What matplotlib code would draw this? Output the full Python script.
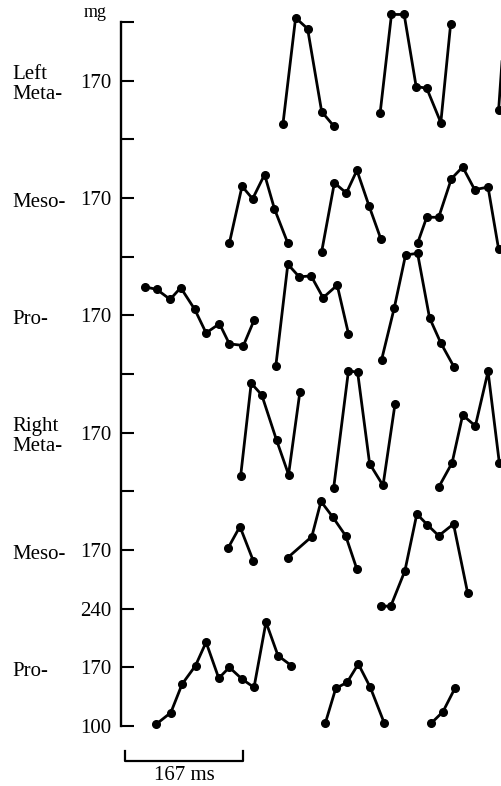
import numpy as np
import matplotlib.pyplot as plt
from matplotlib.transforms import blended_transform_factory

plt.rcParams['font.family'] = ['Liberation Serif', 'DejaVu Serif']

# time (ms) and force (mg) for each stance phase, one list per leg
l_meta_t = [[224, 242, 259, 279, 296], [362, 378, 396, 413, 428, 448, 462], [530, 539]]
l_meta_mg = [[118, 245, 232, 133, 116], [132, 249, 249, 163, 161, 120, 238], [135, 243]]

l_meso_t = [[148, 166, 181, 198, 212, 231], [279, 297, 314, 329, 346, 363],
            [415, 428, 445, 463, 479, 496, 515, 530]]
l_meso_mg = [[116, 184, 169, 198, 157, 116], [106, 188, 176, 203, 161, 121],
             [116, 147, 147, 193, 207, 180, 183, 109]]

l_pro_t = [[28, 45, 64, 79, 99, 115, 134, 148, 168, 183], [214, 231, 247, 264, 281, 301, 317],
           [364, 382, 398, 415, 432, 448, 467]]
l_pro_mg = [[204, 201, 189, 203, 177, 149, 160, 136, 134, 164], [110, 231, 216, 217, 191, 206, 148],
            [117, 179, 242, 244, 167, 137, 108]]

r_meta_t = [[164, 179, 194, 215, 232, 248], [296, 317, 330, 347, 366, 383], [445, 464, 479, 497, 515, 531]]
r_meta_mg = [[118, 229, 215, 161, 120, 218], [104, 244, 242, 133, 107, 204], [105, 134, 191, 178, 243, 134]]

r_meso_t = [[146, 163, 182], [231, 265, 278, 295, 313, 329], [363, 377, 397, 414, 429, 445, 466, 486]]
r_meso_mg = [[172, 198, 157], [161, 186, 228, 209, 187, 147], [103, 103, 145, 213, 200, 187, 201, 119]]

r_pro_t = [[44, 65, 81, 100, 115, 133, 148, 166, 183, 200, 217, 236], [284, 299, 315, 331, 348, 368],
           [434, 451, 468]]
r_pro_mg = [[102, 116, 150, 172, 200, 157, 170, 156, 146, 224, 184, 172], [103, 145, 152, 174, 146, 103],
            [103, 117, 145]]

leg_names = ['Left\nMeta-', 'Meso-', 'Pro-', 'Right\nMeta-', 'Meso-', 'Pro-']
leg_t = [l_meta_t, l_meso_t, l_pro_t, r_meta_t, r_meso_t, r_pro_t]
leg_mg = [l_meta_mg, l_meso_mg, l_pro_mg, r_meta_mg, r_meso_mg, r_pro_mg]

ytick_vals = np.arange(100, 941, 70)
ytick_labels = ['100', '170', '240', '170', '', '170', '', '170', '', '170', '', '170', '']
scale_ms = 167

fig = plt.figure(figsize=(5.02, 7.86), dpi=100)
ax = fig.add_axes([121 / 502, 60 / 786, 381 / 502, 704 / 786])

band = 140  # each leg is shifted up by one band
n = len(leg_names)
tr = blended_transform_factory(fig.transFigure, ax.transData)
for i in range(n):
    off = band * (n - 1 - i)
    for t, mg in zip(leg_t[i], leg_mg[i]):
        ax.plot(t, np.array(mg) + off, color='black', lw=2.0, marker='o', ms=5.5, clip_on=False)
    # leg name at the left, level with its 170 tick
    ax.annotate(leg_names[i], xy=(12 / 502, 170 + off), xycoords=tr, xytext=(0, -3),
                textcoords='offset points', ha='left', va='center', fontsize=15, linespacing=1.05)

ax.set_xlim(-5.7, 534.8)
ax.set_ylim(100, 940)
ax.set_yticks(ytick_vals)
ax.set_yticklabels(ytick_labels, fontsize=15)
ax.tick_params(axis='y', direction='in', length=9, width=1.5, pad=7)
ax.set_xticks([])
for s in ['top', 'right', 'bottom']:
    ax.spines[s].set_visible(False)
ax.spines['left'].set_linewidth(1.7)

ax.annotate('mg', xy=(0, 940), xycoords=('axes fraction', 'data'), xytext=(-10, 1),
            textcoords='offset points', ha='right', va='bottom', fontsize=13)

# time scale bar
ax.plot([0, 0, scale_ms, scale_ms], [70, 58, 58, 70], color='black', lw=1.6, clip_on=False)
ax.text(scale_ms / 2, 41, '%d ms' % scale_ms, ha='center', va='center', fontsize=15)

fig.savefig('out.png', dpi=100)
